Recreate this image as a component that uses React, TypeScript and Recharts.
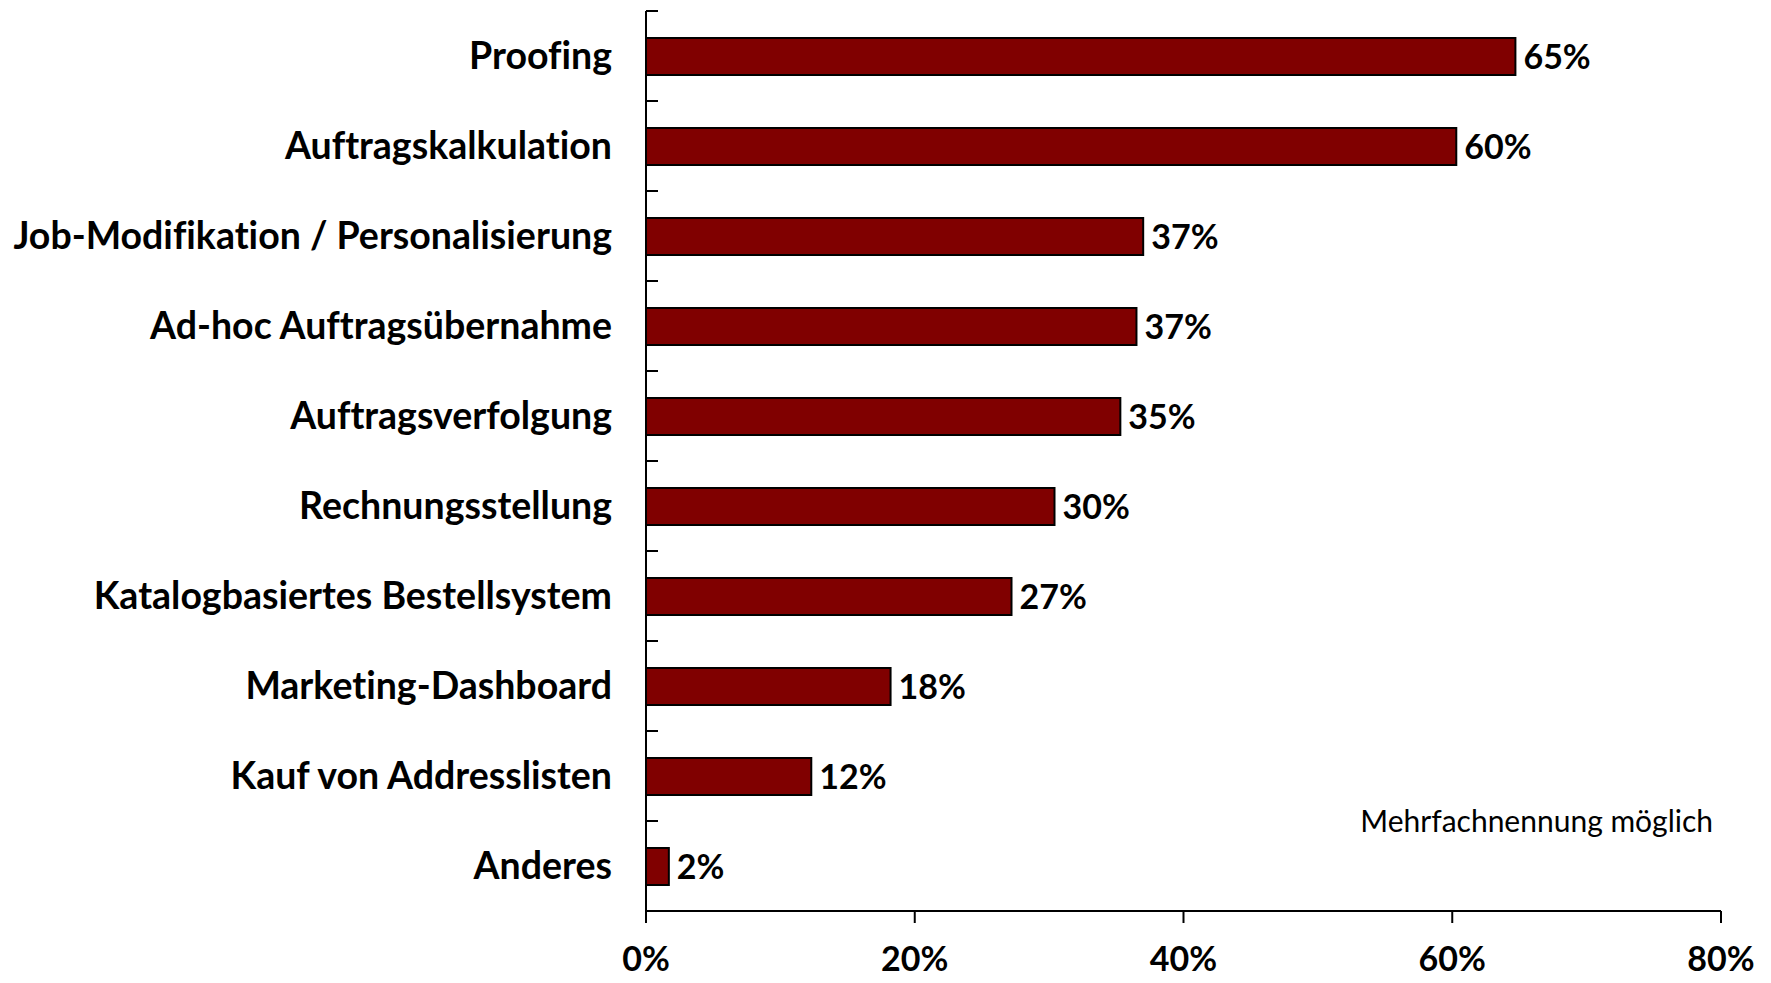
import { BarChart, Bar, XAxis, YAxis, LabelList } from 'recharts';

const categories = [
  'Proofing',
  'Auftragskalkulation',
  'Job-Modifikation / Personalisierung',
  'Ad-hoc Auftragsübernahme',
  'Auftragsverfolgung',
  'Rechnungsstellung',
  'Katalogbasiertes Bestellsystem',
  'Marketing-Dashboard',
  'Kauf von Addresslisten',
  'Anderes',
];
const shares = [64.7, 60.3, 37.0, 36.5, 35.3, 30.4, 27.2, 18.2, 12.3, 1.7];
const xTicks = [0, 20, 40, 60, 80];
const note = 'Mehrfachnennung möglich';

const W = 1771;
const H = 983;
const MARGIN = { top: 11, right: 50, bottom: 0, left: 0 };
const Y_AXIS_W = 646;
const X_AXIS_H = 72;
const PLOT_H = H - MARGIN.top - MARGIN.bottom - X_AXIS_H;
const STEP = PLOT_H / categories.length;
const FONT = 'Lato, "Open Sans", sans-serif';

const data = categories.map((name, i) => ({ name, value: shares[i] }));

function CategoryTick(props: any) {
  const { x, y, payload, index } = props;
  const axisX = x + 8;
  return (
    <g>
      <line x1={axisX} x2={axisX + 12} y1={y - STEP / 2} y2={y - STEP / 2} stroke="#000" strokeWidth={2} />
      {index === categories.length - 1 && (
        <line x1={axisX} x2={axisX + 12} y1={y + STEP / 2} y2={y + STEP / 2} stroke="#000" strokeWidth={2} />
      )}
      <text
        x={axisX - 34}
        y={y}
        dy="0.35em"
        textAnchor="end"
        fontFamily={FONT}
        fontWeight={700}
        fontSize={37.5}
        fill="#000"
        style={{ fontVariantLigatures: 'none' }}
      >
        {payload.value}
      </text>
    </g>
  );
}

function ValueTick(props: any) {
  const { x, y, payload } = props;
  return (
    <text x={x} y={y} dy={46} textAnchor="middle" fontFamily={FONT} fontWeight={700} fontSize={34} fill="#000">
      {`${payload.value}%`}
    </text>
  );
}

export default function App() {
  return (
    <div style={{ position: 'relative', width: W, height: H, background: '#fff' }}>
      <style>{'body{margin:0}'}</style>
      <BarChart width={W} height={H} data={data} layout="vertical" margin={MARGIN}>
        <XAxis
          type="number"
          domain={[0, 80]}
          ticks={xTicks}
          height={X_AXIS_H}
          axisLine={{ stroke: '#000', strokeWidth: 2 }}
          tickLine={{ stroke: '#000', strokeWidth: 2 }}
          tickSize={12}
          tick={<ValueTick />}
          interval={0}
        />
        <YAxis
          type="category"
          dataKey="name"
          width={Y_AXIS_W}
          axisLine={{ stroke: '#000', strokeWidth: 2 }}
          tickLine={false}
          tick={<CategoryTick />}
          interval={0}
        />
        <Bar dataKey="value" fill="#800000" stroke="#000" strokeWidth={2} barSize={37} isAnimationActive={false}>
          <LabelList
            dataKey="value"
            position="right"
            offset={8}
            formatter={(v: any) => `${Math.round(Number(v))}%`}
            style={{ fontFamily: FONT, fontWeight: 700, fontSize: 34, fill: '#000' }}
          />
        </Bar>
      </BarChart>
      <div
        style={{
          position: 'absolute',
          right: W - 1713,
          top: 802,
          fontFamily: FONT,
          fontSize: 30,
          color: '#000',
          whiteSpace: 'nowrap',
        }}
      >
        {note}
      </div>
    </div>
  );
}
